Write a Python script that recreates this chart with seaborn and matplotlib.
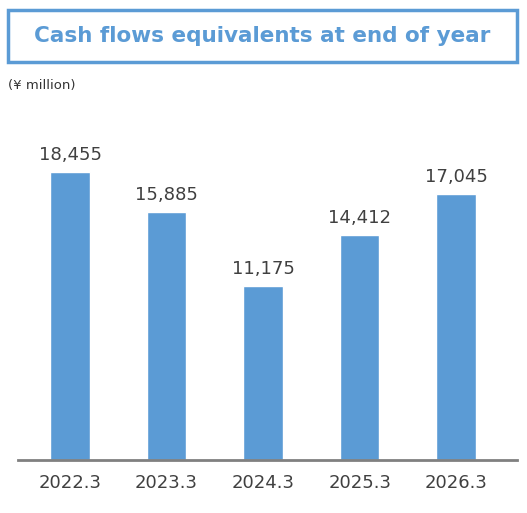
import matplotlib
matplotlib.use("Agg")
import matplotlib.pyplot as plt
import seaborn as sns
import pandas as pd
from matplotlib.patches import Rectangle

categories = ["2022.3", "2023.3", "2024.3", "2025.3", "2026.3"]
values = [18455, 15885, 11175, 14412, 17045]
title = "Cash flows equivalents at end of year"
unit = "(¥ million)"

sns.set_theme(style="white")
plt.rcParams['font.family'] = ['DejaVu Sans']
df = pd.DataFrame({"year": categories, "value": values})

fig = plt.figure(figsize=(5.27, 5.13), dpi=100)
ax = fig.add_axes([0.034, 0.103, 0.947, 0.682])
sns.barplot(data=df, x="year", y="value", color="#5B9BD5", width=0.41, saturation=1, ax=ax)
ax.set_ylim(0, 22420)
ax.set_xlim(-0.54, 4.63)
for s in ["top", "right", "left"]:
    ax.spines[s].set_visible(False)
ax.spines["bottom"].set_color("#808080")
ax.spines["bottom"].set_linewidth(2)
ax.set_yticks([])
ax.set_xlabel(""); ax.set_ylabel("")
ax.tick_params(axis="x", labelsize=13, colors="#404040", length=0, pad=10)
for i, v in enumerate(values):
    ax.text(i, v + 500, f"{v:,}", ha="center", va="bottom", fontsize=13, color="#404040")

fig.patches.append(Rectangle((8/527, 1-62/513), 509/527, 52/513, transform=fig.transFigure,
                             fill=False, edgecolor="#5B9BD5", linewidth=2.5))
fig.text(262/527, 1-36/513, title, ha="center", va="center", fontsize=15.5,
         fontweight="bold", color="#5B9BD5")
fig.text(8/527, 1-85/513, unit, ha="left", va="center", fontsize=9.5, color="#333333")
fig.savefig("out.png", dpi=100)
